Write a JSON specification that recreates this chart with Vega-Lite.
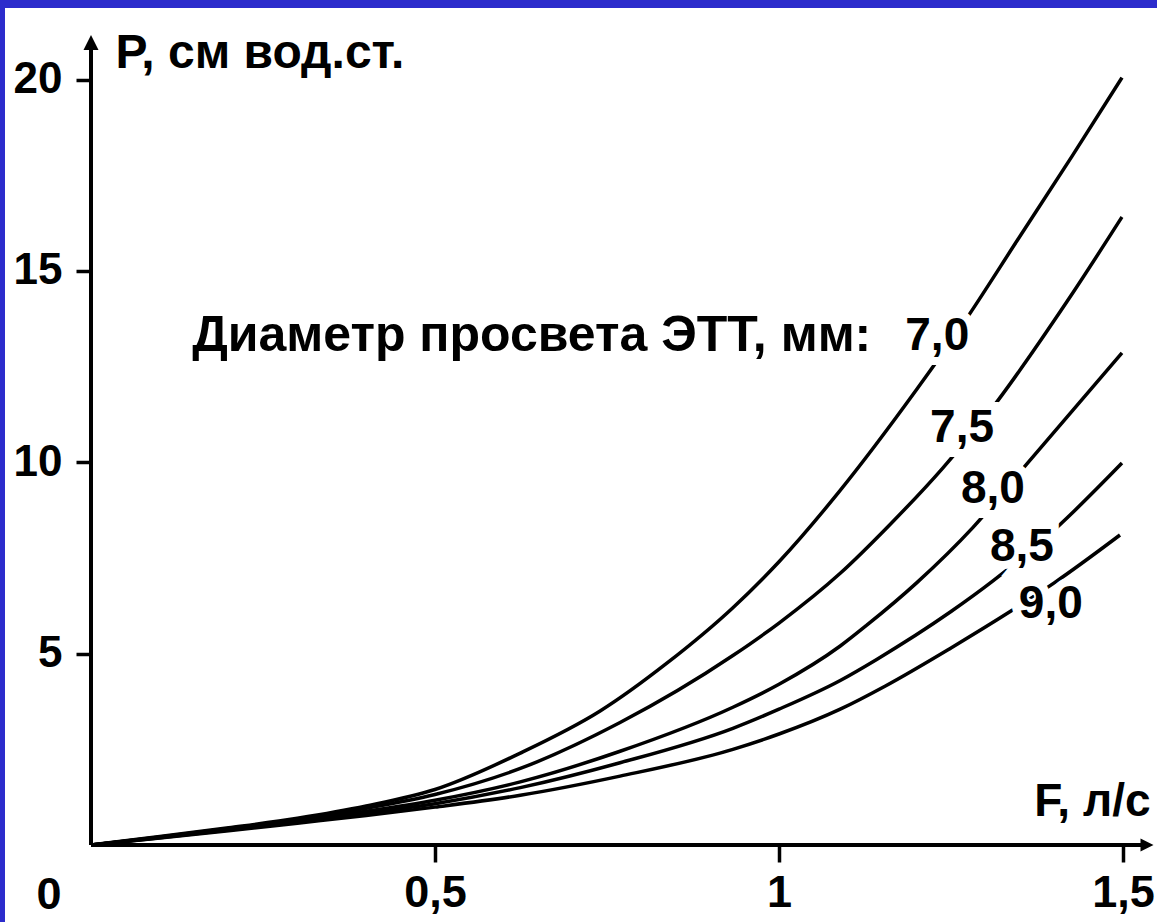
{
  "$schema": "https://vega.github.io/schema/vega-lite/v6.json",
  "width": 1152,
  "height": 914,
  "autosize": {"type": "none"},
  "padding": {"left": 5, "top": 8, "right": 0, "bottom": 0},
  "background": "#2c2ccc",
  "config": {
    "view": {"fill": "white", "stroke": null},
    "text": {"font": "Liberation Sans", "fontWeight": "bold", "color": "black"}
  },
  "datasets": {
    "curves": [
      {"d": "7,0", "F": 0, "P": 0}, {"d": "7,0", "F": 0.1, "P": 0.22}, {"d": "7,0", "F": 0.2, "P": 0.45}, {"d": "7,0", "F": 0.3, "P": 0.7}, {"d": "7,0", "F": 0.4, "P": 1.02}, {"d": "7,0", "F": 0.5, "P": 1.45}, {"d": "7,0", "F": 0.624, "P": 2.4}, {"d": "7,0", "F": 0.74, "P": 3.5}, {"d": "7,0", "F": 0.837, "P": 4.75}, {"d": "7,0", "F": 0.933, "P": 6.2}, {"d": "7,0", "F": 1.0, "P": 7.4}, {"d": "7,0", "F": 1.086, "P": 9.2}, {"d": "7,0", "F": 1.2, "P": 11.9}, {"d": "7,0", "F": 1.263, "P": 13.5}, {"d": "7,0", "F": 1.35, "P": 15.9}, {"d": "7,0", "F": 1.426, "P": 18.0}, {"d": "7,0", "F": 1.4985, "P": 20.05},
      {"d": "7,5", "F": 0, "P": 0}, {"d": "7,5", "F": 0.1, "P": 0.21}, {"d": "7,5", "F": 0.2, "P": 0.43}, {"d": "7,5", "F": 0.3, "P": 0.67}, {"d": "7,5", "F": 0.4, "P": 0.96}, {"d": "7,5", "F": 0.5, "P": 1.32}, {"d": "7,5", "F": 0.624, "P": 2.0}, {"d": "7,5", "F": 0.769, "P": 3.2}, {"d": "7,5", "F": 0.933, "P": 4.95}, {"d": "7,5", "F": 1.0, "P": 5.8}, {"d": "7,5", "F": 1.089, "P": 7.1}, {"d": "7,5", "F": 1.16, "P": 8.35}, {"d": "7,5", "F": 1.238, "P": 9.85}, {"d": "7,5", "F": 1.307, "P": 11.35}, {"d": "7,5", "F": 1.4186, "P": 14.2}, {"d": "7,5", "F": 1.4985, "P": 16.41},
      {"d": "8,0", "F": 0, "P": 0}, {"d": "8,0", "F": 0.1, "P": 0.2}, {"d": "8,0", "F": 0.2, "P": 0.41}, {"d": "8,0", "F": 0.3, "P": 0.63}, {"d": "8,0", "F": 0.4, "P": 0.88}, {"d": "8,0", "F": 0.5, "P": 1.17}, {"d": "8,0", "F": 0.624, "P": 1.65}, {"d": "8,0", "F": 0.769, "P": 2.45}, {"d": "8,0", "F": 0.933, "P": 3.6}, {"d": "8,0", "F": 1.0, "P": 4.2}, {"d": "8,0", "F": 1.089, "P": 5.2}, {"d": "8,0", "F": 1.128, "P": 5.75}, {"d": "8,0", "F": 1.2, "P": 6.85}, {"d": "8,0", "F": 1.282, "P": 8.3}, {"d": "8,0", "F": 1.36, "P": 9.95}, {"d": "8,0", "F": 1.4985, "P": 12.86},
      {"d": "8,5", "F": 0, "P": 0}, {"d": "8,5", "F": 0.1, "P": 0.19}, {"d": "8,5", "F": 0.2, "P": 0.39}, {"d": "8,5", "F": 0.3, "P": 0.6}, {"d": "8,5", "F": 0.4, "P": 0.83}, {"d": "8,5", "F": 0.5, "P": 1.08}, {"d": "8,5", "F": 0.624, "P": 1.5}, {"d": "8,5", "F": 0.769, "P": 2.15}, {"d": "8,5", "F": 0.933, "P": 3.05}, {"d": "8,5", "F": 1.0, "P": 3.55}, {"d": "8,5", "F": 1.089, "P": 4.3}, {"d": "8,5", "F": 1.142, "P": 4.85}, {"d": "8,5", "F": 1.25, "P": 6.1}, {"d": "8,5", "F": 1.311, "P": 6.9}, {"d": "8,5", "F": 1.404, "P": 8.3}, {"d": "8,5", "F": 1.4985, "P": 9.98},
      {"d": "9,0", "F": 0, "P": 0}, {"d": "9,0", "F": 0.1, "P": 0.18}, {"d": "9,0", "F": 0.2, "P": 0.37}, {"d": "9,0", "F": 0.3, "P": 0.57}, {"d": "9,0", "F": 0.4, "P": 0.77}, {"d": "9,0", "F": 0.5, "P": 0.99}, {"d": "9,0", "F": 0.624, "P": 1.3}, {"d": "9,0", "F": 0.769, "P": 1.8}, {"d": "9,0", "F": 0.933, "P": 2.5}, {"d": "9,0", "F": 1.0, "P": 2.9}, {"d": "9,0", "F": 1.089, "P": 3.55}, {"d": "9,0", "F": 1.154, "P": 4.15}, {"d": "9,0", "F": 1.25, "P": 5.15}, {"d": "9,0", "F": 1.336, "P": 6.1}, {"d": "9,0", "F": 1.4, "P": 6.85}, {"d": "9,0", "F": 1.4956, "P": 8.1}
    ],
    "labels": [
      {"lab": "7,0", "F": 1.23, "P": 13.3},
      {"lab": "7,5", "F": 1.266, "P": 10.9},
      {"lab": "8,0", "F": 1.311, "P": 9.3},
      {"lab": "8,5", "F": 1.353, "P": 7.79},
      {"lab": "9,0", "F": 1.395, "P": 6.3}
    ]
  },
  "encoding": {
    "x": {
      "field": "F", "type": "quantitative",
      "scale": {"domain": [-0.125, 1.5494], "nice": false, "zero": false},
      "axis": {
        "values": [0.5, 1, 1.5], "domain": false, "grid": false,
        "tickSize": 17, "tickWidth": 3.5, "tickColor": "black",
        "labelFont": "Liberation Sans", "labelFontWeight": "bold", "labelFontSize": 45, "labelColor": "black",
        "labelPadding": 8, "labelFlush": false, "labelOverlap": false,
        "labelExpr": "replace(toString(datum.value), '.', ',')",
        "offset": -77,
        "title": "F, л/с", "titleFont": "Liberation Sans", "titleFontWeight": "bold", "titleFontSize": 46, "titleColor": "black",
        "titleAlign": "right", "titleBaseline": "alphabetic", "titleX": 1145, "titleY": -30, "titleAngle": 0
      }
    },
    "y": {
      "field": "P", "type": "quantitative",
      "scale": {"domain": [-2.012, 21.871], "nice": false, "zero": false},
      "axis": {
        "values": [5, 10, 15, 20], "domain": false, "grid": false,
        "tickSize": 15, "tickWidth": 3.5, "tickColor": "black",
        "labelFont": "Liberation Sans", "labelFontWeight": "bold", "labelFontSize": 44, "labelColor": "black",
        "labelPadding": 14, "labelFlush": false, "labelOverlap": false,
        "offset": -86,
        "title": "P, см вод.ст.", "titleFont": "Liberation Sans", "titleFontWeight": "bold", "titleFontSize": 48, "titleColor": "black",
        "titleAngle": 0, "titleAlign": "left", "titleBaseline": "alphabetic", "titleX": 24, "titleY": 59
      }
    }
  },
  "layer": [
    {
      "data": {"values": [{"F": 0, "P": 0, "P2": 20.9}]},
      "mark": {"type": "rule", "color": "black", "strokeWidth": 4},
      "encoding": {"y2": {"field": "P2"}}
    },
    {
      "data": {"values": [{"F": 0, "F2": 1.53, "P": 0}]},
      "mark": {"type": "rule", "color": "black", "strokeWidth": 4},
      "encoding": {"x2": {"field": "F2"}}
    },
    {
      "data": {"values": [{"F": 0, "P": 20.97}]},
      "mark": {"type": "point", "shape": "M0,-1L1,1L-1,1Z", "size": 225, "filled": true, "color": "black", "opacity": 1}
    },
    {
      "data": {"values": [{"F": 1.5349, "P": 0}]},
      "mark": {"type": "point", "shape": "M1,0L-1,-1L-1,1Z", "size": 169, "filled": true, "color": "black", "opacity": 1}
    },
    {
      "data": {"name": "curves"},
      "mark": {"type": "line", "color": "black", "strokeWidth": 3.5, "interpolate": "monotone"},
      "encoding": {"detail": {"field": "d"}}
    },
    {
      "data": {"name": "labels"},
      "mark": {"type": "text", "fontSize": 46, "align": "center", "baseline": "middle", "fill": "white", "stroke": "white", "strokeWidth": 16},
      "encoding": {"text": {"field": "lab"}}
    },
    {
      "data": {"name": "labels"},
      "mark": {"type": "text", "fontSize": 46, "align": "center", "baseline": "middle", "color": "black"},
      "encoding": {"text": {"field": "lab"}}
    },
    {
      "data": {"values": [{"t": "Диаметр просвета ЭТТ, мм:", "F": 0.147, "P": 13.3}]},
      "mark": {"type": "text", "fontSize": 50, "align": "left", "baseline": "middle", "color": "black"},
      "encoding": {"text": {"field": "t"}}
    },
    {
      "data": {"values": [{"t": "0", "F": 0, "P": 0}]},
      "mark": {"type": "text", "fontSize": 45, "align": "center", "baseline": "middle", "dx": -42, "dy": 50, "color": "black"},
      "encoding": {"text": {"field": "t"}}
    }
  ]
}
